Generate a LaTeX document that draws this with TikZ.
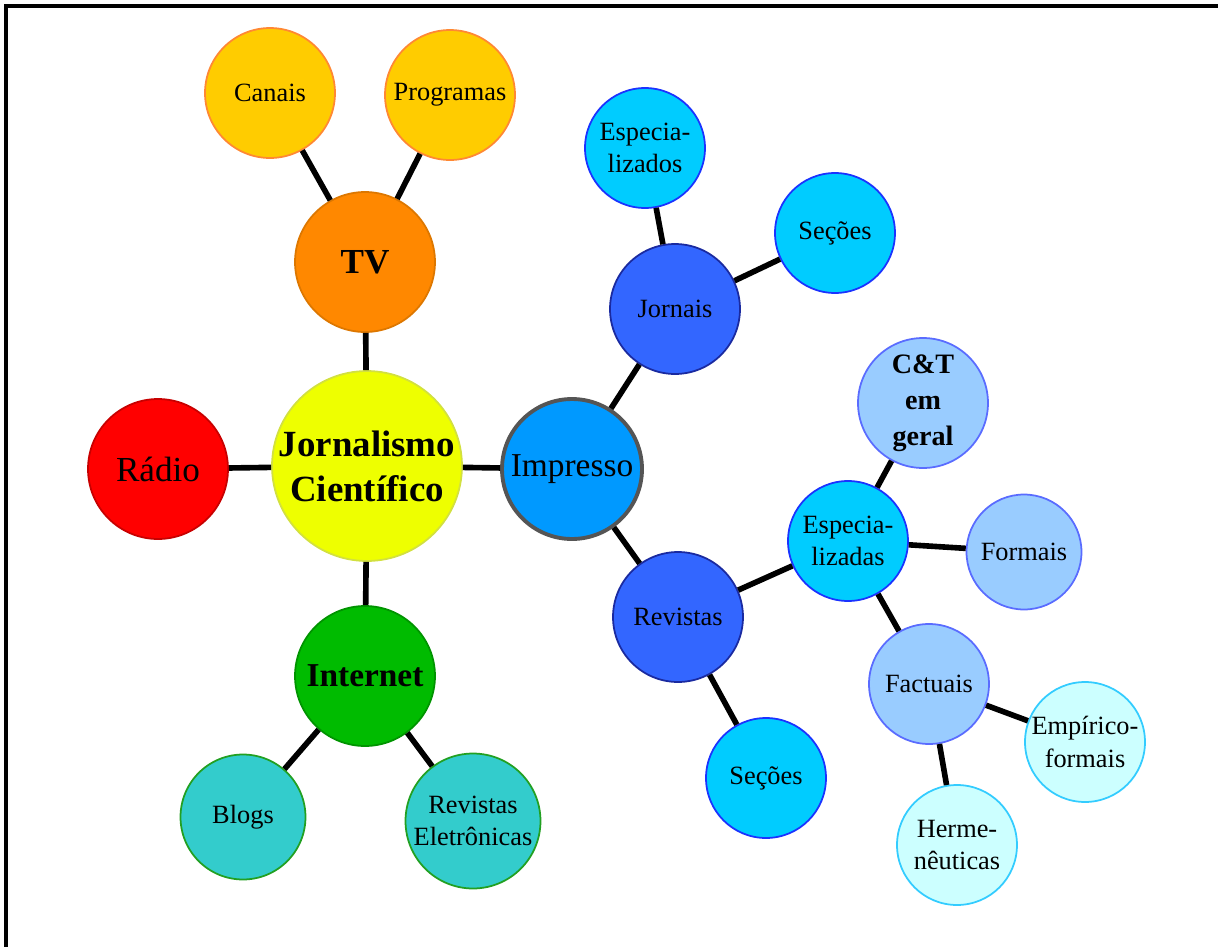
\documentclass[tikz,border=0pt]{standalone}
\usepackage{fontspec}
\setmainfont{Liberation Serif}
\usepackage{tikz}
\usetikzlibrary{positioning}
\definecolor{centerfill}{HTML}{EEFF00}
\definecolor{centerline}{HTML}{D2E040}
\definecolor{radiofill}{HTML}{FF0000}
\definecolor{radioline}{HTML}{C80000}
\definecolor{tvfill}{HTML}{FF8800}
\definecolor{tvline}{HTML}{DD7700}
\definecolor{tvsub}{HTML}{FFCC00}
\definecolor{tvsubline}{HTML}{FF8833}
\definecolor{netfill}{HTML}{00BB00}
\definecolor{netline}{HTML}{009400}
\definecolor{netsub}{HTML}{33CCCC}
\definecolor{netsubline}{HTML}{22A022}
\definecolor{prfill}{HTML}{0099FF}
\definecolor{prline}{HTML}{555555}
\definecolor{prsub}{HTML}{3366FF}
\definecolor{prsubline}{HTML}{1A2AA0}
\definecolor{skyfill}{HTML}{00CCFF}
\definecolor{skyline}{HTML}{1A33FF}
\definecolor{palefill}{HTML}{99CCFF}
\definecolor{paleline}{HTML}{5A6CFF}
\definecolor{icefill}{HTML}{CCFFFF}
\definecolor{iceline}{HTML}{33CCFF}

\begin{document}
\begin{tikzpicture}[x=0.02cm,y=-0.02cm,
  bub/.style={circle,draw,line width=1pt,inner sep=0pt,align=center,
    font=\fontsize{15}{18.5}\selectfont},
  big/.style={font=\fontsize{20}{24}\selectfont},
  link/.style={line width=3.2pt}]
% frame
\useasboundingbox (0,0) rectangle (1218,947);
\draw[line width=2.2pt] (6,947) -- (6,6) -- (1218,6);
% centre
\node[bub,fill=centerfill,draw=centerline,minimum size=3.8cm,
  font=\fontsize{21}{25.5}\selectfont\bfseries] (jc) at (367,466) {Jornalismo\\Científico};
% media
\node[bub,big,fill=radiofill,draw=radioline,minimum size=2.8cm] (radio) at (158,469) {Rádio};
\node[bub,big,fill=tvfill,draw=tvline,minimum size=2.8cm,font=\fontsize{20}{24}\selectfont\bfseries] (tv) at (365,262) {TV};
\node[bub,big,fill=netfill,draw=netline,minimum size=2.8cm,font=\fontsize{19}{24}\selectfont\bfseries] (net) at (365,676) {Internet};
\node[bub,fill=prfill,draw=prline,line width=2.2pt,minimum size=2.8cm,
  font=\fontsize{19}{24}\selectfont] (impr) at (572,469) {Impresso};
% tv
\node[bub,fill=tvsub,draw=tvsubline,minimum size=2.6cm] (canais) at (270,93) {Canais};
\node[bub,fill=tvsub,draw=tvsubline,minimum size=2.6cm] (progr) at (450,95) {Programas};
% internet
\node[bub,fill=netsub,draw=netsubline,minimum size=2.5cm] (blogs) at (243,817) {Blogs};
\node[bub,fill=netsub,draw=netsubline,minimum size=2.7cm] (reveletr) at (473,821) {Revistas\\Eletrônicas};
% impresso
\node[bub,fill=prsub,draw=prsubline,minimum size=2.6cm] (jornais) at (675,309) {Jornais};
\node[bub,fill=prsub,draw=prsubline,minimum size=2.6cm] (revistas) at (678,617) {Revistas};
\node[bub,fill=skyfill,draw=skyline,minimum size=2.4cm] (jesp) at (645,148) {Especia-\\lizados};
\node[bub,fill=skyfill,draw=skyline,minimum size=2.4cm] (jsec) at (835,233) {Seções};
\node[bub,fill=skyfill,draw=skyline,minimum size=2.4cm] (rsec) at (766,778) {Seções};
\node[bub,fill=skyfill,draw=skyline,minimum size=2.4cm] (resp) at (848,541) {Especia-\\lizadas};
% especializadas
\node[bub,fill=palefill,draw=paleline,minimum size=2.6cm,
  font=\fontsize{16}{20.5}\selectfont\bfseries] (ctg) at (923,403) {C\&T\\em\\geral};
\node[bub,fill=palefill,draw=paleline,minimum size=2.3cm] (formais) at (1024,552) {Formais};
\node[bub,fill=palefill,draw=paleline,minimum size=2.4cm] (factuais) at (929,684) {Factuais};
\node[bub,fill=icefill,draw=iceline,minimum size=2.4cm] (empir) at (1085,742) {Empírico-\\formais};
\node[bub,fill=icefill,draw=iceline,minimum size=2.4cm] (herm) at (957,845) {Herme-\\nêuticas};
% links
\draw[link] (jc) -- (radio);
\draw[link] (jc) -- (tv);
\draw[link] (jc) -- (net);
\draw[link] (jc) -- (impr);
\draw[link] (tv) -- (canais);
\draw[link] (tv) -- (progr);
\draw[link] (net) -- (blogs);
\draw[link] (net) -- (reveletr);
\draw[link] (impr) -- (jornais);
\draw[link] (impr) -- (revistas);
\draw[link] (jornais) -- (jesp);
\draw[link] (jornais) -- (jsec);
\draw[link] (revistas) -- (rsec);
\draw[link] (revistas) -- (resp);
\draw[link] (resp) -- (ctg);
\draw[link] (resp) -- (formais);
\draw[link] (resp) -- (factuais);
\draw[link] (factuais) -- (empir);
\draw[link] (factuais) -- (herm);
\end{tikzpicture}
\end{document}
